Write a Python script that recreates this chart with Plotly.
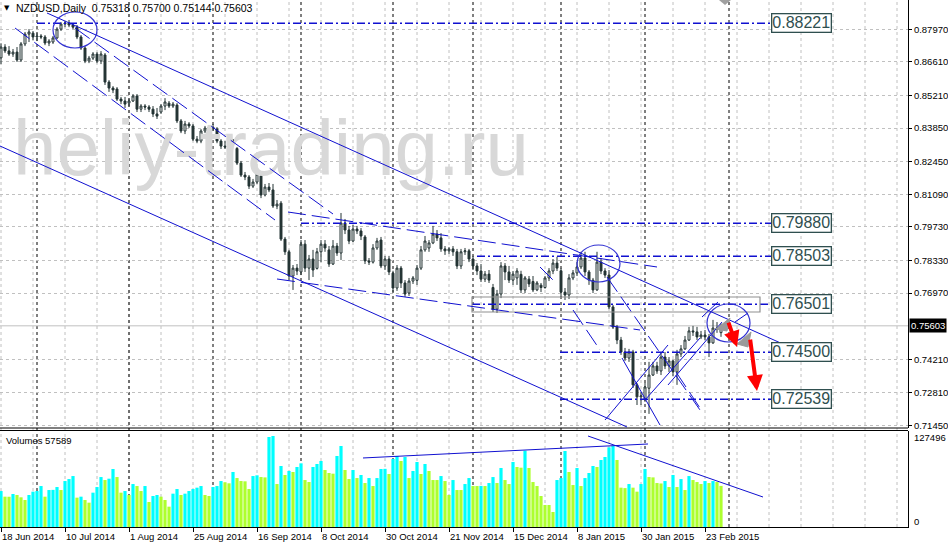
import plotly.graph_objects as go

# ---------------- data ----------------
tick_bars = [0, 16, 32, 48, 64, 80, 96, 112, 128, 144, 160, 176]
tick_dates = ["18 Jun 2014", "10 Jul 2014", "1 Aug 2014", "25 Aug 2014", "16 Sep 2014",
              "8 Oct 2014", "30 Oct 2014", "21 Nov 2014", "15 Dec 2014", "8 Jan 2015",
              "30 Jan 2015", "23 Feb 2015"]
month_start_bars = [9, 32, 53, 75, 98, 118, 140, 161, 182]

opens = [.8678,.8723,.8707,.8694,.8702,.8669,.8736,.8777,.8781,.8765,
         .8769,.8765,.8740,.8744,.8761,.8798,.8819,.8823,.8815,.8806,
         .8765,.8719,.8665,.8677,.8694,.8665,.8690,.8577,.8552,.8548,
         .8506,.8498,.8489,.8498,.8519,.8464,.8477,.8473,.8464,.8444,
         .8452,.8477,.8489,.8477,.8481,.8415,.8373,.8402,.8394,.8339,
         .8331,.8373,.8385,.8389,.8381,.8331,.8310,.8306,.8335,.8300,
         .8239,.8189,.8181,.8143,.8160,.8185,.8106,.8139,.8127,.8060,
         .8072,.7922,.7869,.7768,.7801,.7785,.7901,.7801,.7839,.7800,
         .7869,.7901,.7877,.7818,.7893,.7864,.7989,.7960,.7914,.7964,
         .7956,.7931,.7831,.7826,.7885,.7918,.7810,.7839,.7780,.7718,
         .7801,.7739,.7697,.7747,.7750,.7801,.7877,.7885,.7906,.7943,
         .7927,.7881,.7873,.7881,.7869,.7810,.7869,.7873,.7839,.7810,
         .7789,.7755,.7776,.7720,.7630,.7693,.7810,.7785,.7751,.7760,
         .7775,.7710,.7755,.7745,.7710,.7730,.7720,.7760,.7789,.7822,
         .7790,.7701,.7689,.7760,.7781,.7806,.7843,.7785,.7751,.7710,
         .7826,.7789,.7772,.7639,.7555,.7501,.7451,.7426,.7451,.7314,
         .7264,.7255,.7300,.7355,.7393,.7372,.7430,.7393,.7414,.7368,
         .7443,.7464,.7501,.7539,.7535,.7514,.7522,.7514,.7489,.7551,
         .75318]
highs = [.8739,.8735,.8727,.8715,.8723,.8744,.8786,.8798,.8790,.8781,
         .8777,.8773,.8756,.8769,.8806,.8827,.8831,.8836,.8823,.8815,
         .8773,.8727,.8686,.8702,.8702,.8706,.8698,.8585,.8560,.8556,
         .8515,.8515,.8506,.8527,.8527,.8485,.8485,.8481,.8477,.8469,
         .8485,.8510,.8498,.8494,.8489,.8423,.8415,.8410,.8402,.8352,
         .8381,.8394,.8398,.8402,.8389,.8339,.8331,.8343,.8339,.8306,
         .8248,.8202,.8189,.8173,.8210,.8193,.8152,.8156,.8152,.8085,
         .8081,.7931,.7877,.7814,.7818,.7918,.7918,.7856,.7877,.7885,
         .7918,.7918,.7893,.7918,.7906,.8031,.8006,.7977,.7981,.7977,
         .7968,.7939,.7843,.7901,.7927,.7931,.7852,.7852,.7790,.7814,
         .7810,.7751,.7760,.7768,.7814,.7893,.7935,.7918,.7977,.7960,
         .7947,.7893,.7889,.7893,.7881,.7881,.7885,.7881,.7852,.7822,
         .7818,.7789,.7793,.7735,.7710,.7826,.7822,.7810,.7789,.7801,
         .7790,.7768,.7768,.7768,.7747,.7739,.7768,.7801,.7839,.7848,
         .7800,.7718,.7776,.7793,.7826,.7869,.7869,.7793,.7760,.7869,
         .7843,.7801,.7793,.7647,.7564,.7514,.7468,.7464,.7460,.7322,
         .7284,.7322,.7410,.7410,.7410,.7447,.7451,.7430,.7418,.7460,
         .7480,.7518,.7556,.7560,.7556,.7539,.7543,.7526,.7585,.7576,
         .75700]
lows = [.8652,.8698,.8686,.8682,.8661,.8661,.8727,.8744,.8752,.8748,
        .8756,.8731,.8727,.8736,.8756,.8790,.8806,.8806,.8798,.8756,
        .8711,.8656,.8656,.8669,.8656,.8652,.8565,.8536,.8531,.8498,
        .8485,.8469,.8477,.8494,.8452,.8452,.8460,.8452,.8431,.8423,
        .8444,.8460,.8469,.8469,.8406,.8364,.8360,.8385,.8331,.8322,
        .8322,.8364,.8373,.8373,.8322,.8298,.8298,.8302,.8310,.8231,
        .8181,.8168,.8131,.8135,.8152,.8093,.8100,.8118,.8052,.8047,
        .7914,.7856,.7751,.7710,.7772,.7772,.7785,.7751,.7764,.7795,
        .7826,.7869,.7806,.7814,.7852,.7835,.7943,.7901,.7910,.7943,
        .7918,.7818,.7814,.7820,.7877,.7801,.7793,.7772,.7701,.7706,
        .7718,.7681,.7685,.7735,.7731,.7793,.7869,.7869,.7901,.7914,
        .7869,.7856,.7860,.7852,.7797,.7797,.7856,.7826,.7793,.7772,
        .7743,.7743,.7739,.7618,.7614,.7676,.7751,.7739,.7731,.7731,
        .7697,.7697,.7722,.7701,.7705,.7701,.7715,.7747,.7776,.7789,
        .7681,.7668,.7672,.7751,.7768,.7797,.7768,.7731,.7697,.7706,
        .7776,.7760,.7630,.7547,.7484,.7439,.7414,.7410,.7301,.7230,
        .7230,.7243,.7193,.7351,.7360,.7355,.7380,.7368,.7351,.7314,
        .7430,.7460,.7497,.7518,.7501,.7505,.7501,.7430,.7485,.7531,
        .75144]
closes = [.8723,.8707,.8694,.8702,.8669,.8736,.8777,.8786,.8765,.8769,
          .8765,.8740,.8748,.8761,.8798,.8819,.8823,.8815,.8806,.8765,
          .8719,.8665,.8677,.8694,.8665,.8694,.8577,.8552,.8544,.8506,
          .8498,.8485,.8498,.8519,.8464,.8477,.8473,.8464,.8444,.8435,
          .8477,.8494,.8477,.8485,.8415,.8373,.8402,.8394,.8339,.8331,
          .8373,.8385,.8389,.8381,.8331,.8310,.8306,.8335,.8322,.8239,
          .8189,.8181,.8143,.8160,.8193,.8106,.8139,.8127,.8060,.8068,
          .7922,.7869,.7768,.7801,.7789,.7901,.7801,.7839,.7793,.7869,
          .7901,.7885,.7818,.7893,.7864,.7989,.7960,.7914,.7964,.7956,
          .7935,.7831,.7826,.7885,.7914,.7810,.7839,.7785,.7718,.7801,
          .7739,.7693,.7747,.7760,.7801,.7877,.7914,.7906,.7943,.7927,
          .7881,.7873,.7881,.7869,.7810,.7869,.7873,.7839,.7810,.7789,
          .7755,.7776,.7751,.7630,.7693,.7810,.7785,.7751,.7776,.7789,
          .7710,.7760,.7735,.7710,.7739,.7720,.7760,.7789,.7822,.7801,
          .7701,.7689,.7760,.7781,.7806,.7843,.7785,.7751,.7710,.7826,
          .7789,.7772,.7639,.7555,.7501,.7451,.7426,.7451,.7314,.7264,
          .7268,.7305,.7355,.7393,.7372,.7430,.7393,.7414,.7368,.7443,
          .7464,.7501,.7539,.7535,.7514,.7522,.7514,.7489,.7551,.7547,
          .75603]
volumes = [50400,42500,42400,46200,44800,41600,37800,44800,49500,50400,
           57400,42500,51800,52000,56000,51800,64400,67200,71400,41100,
           42500,37800,34100,48100,56000,70000,65800,67700,81300,70000,
           48100,50400,44800,60200,57400,50400,57400,35000,43400,44800,
           42500,37800,28500,46700,53200,44800,46700,50400,53200,55100,
           57400,44800,43400,56000,57400,64400,62600,61200,77100,68600,
           64400,64000,53200,71400,72400,70000,69500,126100,127496,60200,
           85500,72900,78500,77100,84100,89200,65800,63000,84100,88300,
           92500,79900,75700,74700,99500,113500,79900,67200,79900,68600,
           72900,61600,68600,57400,68600,81300,81500,74300,95300,99500,
           92500,98100,68600,78500,91100,74300,88300,78500,65800,65800,
           71400,64400,44800,65800,51800,51800,60200,68600,57400,57400,
           57600,57400,61600,70000,61600,82700,65800,60200,91100,84100,
           83100,106900,82700,63000,57400,43400,30800,30800,21000,65800,
           68600,106500,77100,58800,82700,57400,68600,75700,85500,84100,
           93900,98100,111600,113500,93900,55100,54500,60200,55100,49500,
           60200,81300,70000,69500,61600,61000,64400,56000,72900,56000,
           67200,51800,71400,65800,63000,60200,64400,61600,64400,63000,
           57589]
price_ticks = [0.87970, 0.86610, 0.85210, 0.83850, 0.82450, 0.81090, 0.79730,
               0.78330, 0.76970, 0.74210, 0.72810, 0.71450]
levels = [0.88221, 0.79880, 0.78503, 0.76501, 0.74500, 0.72539]
level_start_bars = [9, 75, 119, 117.75, 139.75, 139.75]
last_price = 0.75603
vol_max_label = "127496"
title_text = "NZDUSD,Daily  0.75318 0.75700 0.75144 0.75603"

bars = list(range(len(closes)))

# ---------------- layout constants ----------------
W, H = 948, 544
ML, MR, MT, MB = 0, 40, 0, 17
PW, PH = W - ML - MR, H - MT - MB
def py(p):  # pixel row -> paper y
    return (PH - p) / PH
def pxp(x):  # pixel column -> paper x
    return x / PW

BLUE = "#1010D0"
GRID = "#C0C0C0"
FONT = "Liberation Sans"
SMALL = 9.5

vol_colors = ["#00FFFF"]
for i in range(1, len(volumes)):
    vol_colors.append("#00FFFF" if volumes[i] > volumes[i - 1] else "#ADFF2F")

fig = go.Figure()

fig.add_trace(go.Scatter(x=[3], y=[0.8269], mode="text", text=["heliy-trading.ru"],
                         textposition="middle right",
                         textfont=dict(family=FONT, size=78, color="#D8D8D8"),
                         hoverinfo="skip", showlegend=False, xaxis="x", yaxis="y"))

fig.add_trace(go.Candlestick(x=bars, open=opens, high=highs, low=lows, close=closes,
                             increasing=dict(line=dict(color="#243434", width=1), fillcolor="white"),
                             decreasing=dict(line=dict(color="#243434", width=1), fillcolor="#243434"),
                             whiskerwidth=0, showlegend=False, xaxis="x", yaxis="y"))

fig.add_trace(go.Bar(x=bars, y=volumes, marker=dict(color=vol_colors, line=dict(width=0)),
                     width=0.8, showlegend=False, xaxis="x", yaxis="y2"))

shapes = []
for b in range(0, 228, 8):
    shapes.append(dict(type="line", xref="x", yref="paper", x0=b, x1=b, y0=0, y1=1,
                       line=dict(color=GRID, width=1, dash="3px,3px"), layer="below"))
for b in month_start_bars:
    shapes.append(dict(type="line", xref="x", yref="paper", x0=b, x1=b, y0=0, y1=1,
                       line=dict(color="black", width=1, dash="3px,3px"), layer="below"))
shapes.append(dict(type="line", xref="paper", yref="y", x0=0, x1=1, y0=last_price, y1=last_price,
                   line=dict(color=GRID, width=1), layer="below"))
for p in (428, 430.5):
    shapes.append(dict(type="line", xref="paper", yref="paper", x0=0, x1=1, y0=py(p), y1=py(p),
                       line=dict(color="black", width=1)))

for lv, sb in zip(levels, level_start_bars):
    shapes.append(dict(type="line", xref="x", yref="y", x0=sb, x1=192.5, y0=lv, y1=lv,
                       line=dict(color=BLUE, width=1.5, dash="8px,3px,2px,3px")))
shapes.append(dict(type="rect", xref="x", yref="y", x0=117.75, x1=189.75, y0=0.76179, y1=0.76805,
                   line=dict(color="#909090", width=1.2)))

def seg(x0, y0, x1, y1, dash=None, width=1, yref="y"):
    d = dict(type="line", xref="x", yref=yref, x0=x0, y0=y0, x1=x1, y1=y1,
             line=dict(color=BLUE, width=width))
    if dash:
        d["line"]["dash"] = dash
    shapes.append(d)

DASH = "18px,6px"
# long channel
seg(11.5, 0.88651, 196, 0.74803)
seg(-0.25, 0.83103, 156.5, 0.71383)
# descent dashed channel and consolidation wedge
seg(3.5, 0.88025, 68.5, 0.80017, dash=DASH)
seg(18.5, 0.88025, 83, 0.80267, dash=DASH)
seg(71.75, 0.80350, 164, 0.78057, dash=DASH)
seg(69, 0.77556, 159.75, 0.75429, dash=DASH)
# Jan-Feb fan lines
seg(151.5, 0.77639, 174.75, 0.72092, dash=DASH)
seg(151, 0.71675, 166.75, 0.74803)
seg(155.25, 0.74261, 164.75, 0.71466)
seg(161, 0.72509, 174.75, 0.75095)
seg(166.75, 0.73135, 180.25, 0.75762)
seg(168.75, 0.73677, 174.75, 0.72175, dash=DASH)
seg(175.25, 0.75971, 179.25, 0.76597)
seg(183.5, 0.75762, 186.75, 0.76137)
seg(143, 0.76263, 149.75, 0.74595, dash=DASH)
seg(134.75, 0.78056, 138, 0.77514, dash=DASH)
# volume trend lines
seg(90.5, 96700, 161.75, 116300, yref="y2")
seg(146.75, 127500, 190.5, 42000, yref="y2")

for (x0, x1, y0, y1) in [(13, 24, 0.87191, 0.88692), (144, 154.75, 0.77431, 0.78974),
                         (176.5, 187.25, 0.74928, 0.76513)]:
    shapes.append(dict(type="circle", xref="x", yref="y", x0=x0, x1=x1, y0=y0, y1=y1,
                       line=dict(color="#3232D2", width=1.2)))

for pts in [[(178.75, 0.75470), (182.25, 0.75929), (181.5, 0.75387)],
            [(184, 0.74845), (187.5, 0.75345), (186.75, 0.74720)]]:
    path = "M " + " L ".join(f"{a},{b}" for a, b in pts) + " Z"
    shapes.append(dict(type="path", xref="x", yref="y", path=path,
                       fillcolor="#9A9A9A", line=dict(color="#9A9A9A", width=1)))
shapes.append(dict(type="path", xref="paper", yref="paper",
                   path=f"M {pxp(719)},{py(0)} L {pxp(731)},{py(0)} L {pxp(725)},{py(5)} Z",
                   fillcolor="#A0A0A0", line=dict(width=0)))

annotations = []
for lv in levels:
    annotations.append(dict(x=193, y=lv, xref="x", yref="y", xanchor="left", yanchor="middle",
                            text=f"{lv:.5f}", showarrow=False, xshift=-2,
                            font=dict(family=FONT, size=16, color="#2F4F4F"),
                            bgcolor="white", bordercolor="#2F4F4F", borderwidth=1.3, borderpad=0))
for b, t in zip(tick_bars, tick_dates):
    annotations.append(dict(x=b, y=py(536), xref="x", yref="paper", xanchor="left", yanchor="middle",
                            text=t, showarrow=False, xshift=-1,
                            font=dict(family=FONT, size=SMALL, color="black")))
annotations.append(dict(x=1, y=last_price, xref="paper", yref="y", xanchor="left", yanchor="middle",
                        xshift=1, text=f"{last_price:.5f}", showarrow=False, bgcolor="black",
                        borderpad=1, font=dict(family=FONT, size=SMALL, color="white")))
annotations.append(dict(x=1, y=py(438), xref="paper", yref="paper", xanchor="left", yanchor="middle",
                        xshift=4, text=vol_max_label, showarrow=False,
                        font=dict(family=FONT, size=SMALL, color="black")))
annotations.append(dict(x=1, y=py(521), xref="paper", yref="paper", xanchor="left", yanchor="middle",
                        xshift=4, text="0", showarrow=False,
                        font=dict(family=FONT, size=SMALL, color="black")))
annotations.append(dict(x=pxp(4), y=py(440), xref="paper", yref="paper", xanchor="left", yanchor="middle",
                        text=f"Volumes {volumes[-1]}", showarrow=False,
                        font=dict(family=FONT, size=SMALL, color="black")))
annotations.append(dict(x=pxp(14), y=py(8), xref="paper", yref="paper", xanchor="left", yanchor="middle",
                        text=title_text, showarrow=False,
                        font=dict(family=FONT, size=10.5, color="black")))
annotations.append(dict(x=pxp(2), y=py(8), xref="paper", yref="paper", xanchor="left", yanchor="middle",
                        text="▼", showarrow=False, font=dict(family="DejaVu Sans", size=7, color="black")))
for (tx, ty, hx, hy) in [(181.75, 0.7580, 184, 0.7472), (187.25, 0.7509, 189, 0.7288)]:
    annotations.append(dict(x=hx, y=hy, ax=tx, ay=ty, xref="x", yref="y", axref="x", ayref="y",
                            text="", showarrow=True, arrowhead=2, arrowsize=0.8, arrowwidth=4,
                            arrowcolor="#FF0000"))

fig.update_layout(
    width=W, height=H, margin=dict(l=ML, r=MR, t=MT, b=MB),
    paper_bgcolor="white", plot_bgcolor="white", showlegend=False,
    shapes=shapes, annotations=annotations,
    xaxis=dict(domain=[0, 1], range=[-0.25, 226.75], anchor="y2", showgrid=False,
               zeroline=False, showticklabels=False, showline=True, linecolor="black",
               rangeslider=dict(visible=False), tickvals=tick_bars, ticks="outside",
               ticklen=4, tickcolor="black"),
    yaxis=dict(domain=[py(428), 1], range=[0.89193 - 0.0004171 * 428, 0.89193], side="right",
               anchor="x", tickvals=price_ticks, ticktext=[f"{v:.5f}" for v in price_ticks],
               showgrid=True, gridcolor=GRID, griddash="3px,3px", zeroline=False,
               showline=True, linecolor="black", ticks="outside", ticklen=3, tickcolor="black",
               tickfont=dict(family=FONT, size=SMALL, color="black")),
    yaxis2=dict(domain=[0, py(431)], range=[0, 134500], side="right", anchor="x",
                showgrid=False, zeroline=False, showticklabels=False, showline=True,
                linecolor="black", ticks=""),
)

fig.write_html("out.html", config={"displayModeBar": False},
               post_script="document.body.style.margin='0';document.body.style.overflow='hidden';")
